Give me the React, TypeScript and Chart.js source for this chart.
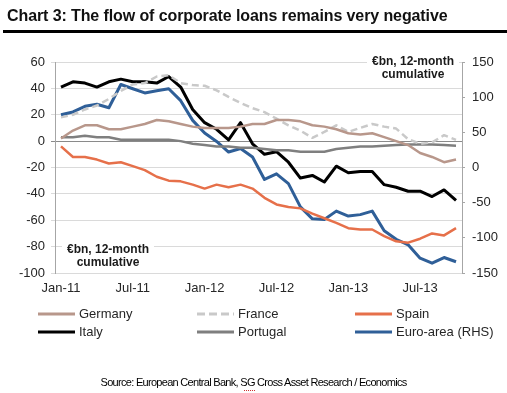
import React, { useEffect, useRef } from "react";
import { Chart, registerables } from "chart.js";

Chart.register(...registerables);

const months = [
  "Jan-11", "Feb-11", "Mar-11", "Apr-11", "May-11", "Jun-11", "Jul-11", "Aug-11", "Sep-11", "Oct-11", "Nov-11", "Dec-11",
  "Jan-12", "Feb-12", "Mar-12", "Apr-12", "May-12", "Jun-12", "Jul-12", "Aug-12", "Sep-12", "Oct-12", "Nov-12", "Dec-12",
  "Jan-13", "Feb-13", "Mar-13", "Apr-13", "May-13", "Jun-13", "Jul-13", "Aug-13", "Sep-13", "Oct-13",
];

const germany = [2, 8, 12, 12, 9, 9, 11, 13, 16, 15, 13, 11, 10, 10, 10, 11, 13, 13, 16, 16, 15, 12, 11, 9, 6, 5, 6, 3, 0, -3, -9, -12, -16, -14];
const france = [18, 20, 24, 27, 32, 38, 43, 44, 49, 50, 44, 42.5, 42, 38.5, 33.5, 29, 25, 22, 17, 12, 8, 2.5, 7, 12, 7, 10, 13, 11, 9.5, 1.5, -2, -1, 4.5, 1];
const spain = [-4, -12, -12, -14, -17, -16, -19, -22, -27, -30, -30.5, -33, -36, -33, -35, -33, -36, -43, -48, -50, -51, -55, -58.5, -62, -66, -67, -67, -72, -76, -77, -74, -70, -71.5, -66];
const italy = [41, 45, 44, 41, 45, 47, 45, 45, 44, 49, 41, 24, 14, 9, 1, 14, -2, -10, -8, -16, -28, -26, -31, -19, -24, -23, -23, -33, -35, -38, -38, -42, -37, -45];
const portugal = [3, 3, 4, 3, 3, 1, 1, 1, 1, 1, 0, -2, -3, -4, -4, -5, -5, -6, -7, -7, -8, -8, -8, -6, -5, -4, -4, -3.5, -3, -2.5, -2.5, -2.5, -3, -3.5];
const euroArea = [75, 79, 87, 90, 85, 118, 112, 106, 109, 112, 95, 67, 49, 37, 22, 27, 15, -17, -9, -23, -56, -73, -74, -62, -69, -67, -62, -90, -102, -110, -129, -136, -128, -134];

const titleText = "Chart 3: The flow of corporate loans remains very negative";
const unitLines = ["€bn, 12-month", "cumulative"];
const sourceText = "Source: European Central Bank, SG Cross Asset Research / Economics";

const FONT = '"Liberation Sans", Arial, Helvetica, sans-serif';
const COLORS = {
  germany: "#b8978b",
  france: "#c9c9c9",
  spain: "#e6704a",
  italy: "#000000",
  portugal: "#7f7f7f",
  euro: "#2f5f98",
};

const legendItems = [
  { label: "Germany", color: COLORS.germany, dash: false, col: 0, row: 0 },
  { label: "France", color: COLORS.france, dash: true, col: 1, row: 0 },
  { label: "Spain", color: COLORS.spain, dash: false, col: 2, row: 0 },
  { label: "Italy", color: COLORS.italy, dash: false, col: 0, row: 1 },
  { label: "Portugal", color: COLORS.portugal, dash: false, col: 1, row: 1 },
  { label: "Euro-area (RHS)", color: COLORS.euro, dash: false, col: 2, row: 1 },
];

const annotationPlugin = {
  id: "unitLabels",
  afterDraw(chart: any) {
    const ctx = chart.ctx;
    ctx.save();
    ctx.font = `bold 12px ${FONT}`;
    ctx.textAlign = "center";
    ctx.textBaseline = "middle";
    const boxes = [
      { cx: 413, y: 62 },
      { cx: 108, y: 250 },
    ];
    boxes.forEach((b) => {
      ctx.fillStyle = "#ffffff";
      ctx.fillRect(b.cx - 46, b.y - 7, 92, 27);
      ctx.fillStyle = "#1a1a1a";
      ctx.fillText(unitLines[0], b.cx, b.y);
      ctx.fillText(unitLines[1], b.cx, b.y + 13);
    });
    ctx.restore();
  },
};

function ChartCanvas() {
  const ref = useRef<HTMLCanvasElement | null>(null);
  useEffect(() => {
    if (!ref.current) return;
    const tickFont = { family: FONT, size: 13 };
    const chart = new Chart(ref.current, {
      type: "line",
      data: {
        labels: months,
        datasets: [
          { label: "Germany", data: germany, borderColor: COLORS.germany, borderWidth: 2.5, yAxisID: "y" },
          { label: "France", data: france, borderColor: COLORS.france, borderWidth: 2.5, borderDash: [7, 4], yAxisID: "y" },
          { label: "Spain", data: spain, borderColor: COLORS.spain, borderWidth: 2.5, yAxisID: "y" },
          { label: "Portugal", data: portugal, borderColor: COLORS.portugal, borderWidth: 2.5, yAxisID: "y" },
          { label: "Euro-area (RHS)", data: euroArea, borderColor: COLORS.euro, borderWidth: 3, yAxisID: "y1" },
          { label: "Italy", data: italy, borderColor: COLORS.italy, borderWidth: 3, yAxisID: "y" },
        ],
      },
      options: {
        responsive: false,
        animation: false,
        devicePixelRatio: 1,
        layout: { padding: { top: 62, bottom: 95, left: 0, right: 0 } },
        elements: { point: { radius: 0 }, line: { tension: 0, borderJoinStyle: "round", borderCapStyle: "butt" } },
        plugins: { legend: { display: false }, tooltip: { enabled: false }, title: { display: false } },
        scales: {
          x: {
            type: "category",
            offset: true,
            grid: { display: false, drawTicks: false, tickLength: 0 },
            border: { display: false },
            ticks: {
              autoSkip: false,
              maxRotation: 0,
              minRotation: 0,
              padding: 8,
              color: "#262626",
              font: tickFont,
              callback: function (this: any, value: any, index: number) {
                return index % 6 === 0 ? this.getLabelForValue(value) : "";
              },
            },
            afterFit(scale: any) {
              scale.height = 25;
            },
          },
          y: {
            position: "left",
            min: -100,
            max: 60,
            ticks: { stepSize: 20, padding: 6, color: "#262626", font: tickFont },
            grid: {
              color: (c: any) => (c.tick && c.tick.value === 0 ? "#8a8a8a" : "#dadada"),
              lineWidth: 1,
              tickLength: 4,
            },
            border: { color: "#a6a6a6" },
            afterFit(scale: any) {
              scale.width = 55;
            },
          },
          y1: {
            position: "right",
            min: -150,
            max: 150,
            ticks: { stepSize: 50, padding: 7, color: "#262626", font: tickFont },
            grid: { drawOnChartArea: false, tickLength: 3, color: "#a6a6a6" },
            border: { color: "#a6a6a6" },
            afterFit(scale: any) {
              scale.width = 45;
            },
          },
        },
      },
      plugins: [annotationPlugin],
    } as any);
    return () => chart.destroy();
  }, []);
  return (
    <canvas
      ref={ref}
      width={507}
      height={393}
      style={{ position: "absolute", left: 0, top: 0, width: 507, height: 393 }}
    />
  );
}

export default function App() {
  const colX = [38, 197, 355];
  const rowY = [314, 332];
  return (
    <div
      style={{
        position: "fixed",
        left: 0,
        top: 0,
        width: 507,
        height: 393,
        background: "#ffffff",
        overflow: "hidden",
        fontFamily: FONT,
      }}
    >
      <ChartCanvas />
      <div
        style={{
          position: "absolute",
          left: 7,
          top: 8,
          fontSize: 16,
          lineHeight: "16px",
          fontWeight: "bold",
          color: "#111",
          whiteSpace: "nowrap",
          letterSpacing: "-0.1px",
        }}
      >
        {titleText}
      </div>
      <div style={{ position: "absolute", left: 3, top: 30, width: 504, height: 3, background: "#000" }} />
      {legendItems.map((it) => (
        <div key={it.label}>
          <svg
            width={37}
            height={4}
            style={{ position: "absolute", left: colX[it.col], top: rowY[it.row] - 2 }}
          >
            <line
              x1={0}
              y1={2}
              x2={37}
              y2={2}
              stroke={it.color}
              strokeWidth={3}
              strokeDasharray={it.dash ? "8 4" : undefined}
            />
          </svg>
          <div
            style={{
              position: "absolute",
              left: colX[it.col] + 41,
              top: rowY[it.row] - 8,
              fontSize: 13,
              lineHeight: "16px",
              color: "#262626",
              whiteSpace: "nowrap",
            }}
          >
            {it.label}
          </div>
        </div>
      ))}
      <div
        style={{
          position: "absolute",
          left: 0,
          width: 507,
          top: 375,
          textAlign: "center",
          fontSize: 11,
          lineHeight: "14px",
          letterSpacing: "-0.7px",
          fontFamily: FONT,
          color: "#000",
          whiteSpace: "nowrap",
        }}
      >
        {sourceText}
      </div>
      <div
        style={{
          position: "absolute",
          left: 244,
          top: 390,
          width: 11,
          height: 0,
          borderTop: "1px dotted #d03030",
        }}
      />
    </div>
  );
}
